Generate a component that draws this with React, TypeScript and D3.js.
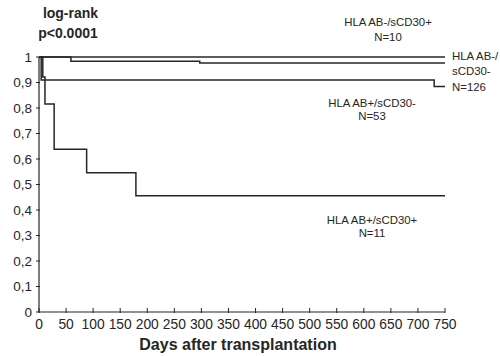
import React from "react";
import * as d3 from "d3";

const xTicks = [0, 50, 100, 150, 200, 250, 300, 350, 400, 450, 500, 550, 600, 650, 700, 750];
const yTicks = [0, 0.1, 0.2, 0.3, 0.4, 0.5, 0.6, 0.7, 0.8, 0.9, 1];

const abNegCd30PosDays = [0, 750];
const abNegCd30PosSurv = [1, 1];
const abNegCd30NegDays = [0, 59, 297, 750];
const abNegCd30NegSurv = [1, 0.983, 0.976, 0.976];
const abPosCd30NegDays = [0, 4, 730, 750];
const abPosCd30NegSurv = [1, 0.91, 0.884, 0.884];
const abPosCd30PosDays = [0, 7, 11, 28, 88, 179, 750];
const abPosCd30PosSurv = [1, 0.922, 0.816, 0.638, 0.546, 0.456, 0.456];

const series = [
  { days: abNegCd30PosDays, surv: abNegCd30PosSurv },
  { days: abNegCd30NegDays, surv: abNegCd30NegSurv },
  { days: abPosCd30NegDays, surv: abPosCd30NegSurv },
  { days: abPosCd30PosDays, surv: abPosCd30PosSurv },
];

const FONT = "'Liberation Sans', Arial, Helvetica, sans-serif";
const INK = "#262626";

export default function App() {
  const x = d3.scaleLinear().domain([0, 750]).range([39, 445]);
  const y = d3.scaleLinear().domain([0, 1]).range([312, 57]);
  const line = d3
    .line<[number, number]>()
    .x((d) => x(d[0]))
    .y((d) => y(d[1]))
    .curve(d3.curveStepAfter);

  const fmtY = (v: number) => (v === 0 || v === 1 ? String(v) : v.toFixed(1).replace(".", ","));

  return (
    <svg width={500} height={356} style={{ position: "absolute", left: 0, top: 0, background: "#fff" }}>
      <rect width={500} height={356} fill="#fff" />
      {/* axes */}
      <line x1={x(0)} x2={x(0)} y1={y(0)} y2={y(1)} stroke={INK} strokeWidth={1.2} />
      <line x1={x(0)} x2={x(750)} y1={y(0)} y2={y(0)} stroke={INK} strokeWidth={1.2} />
      {yTicks.map((t) => (
        <g key={"y" + t}>
          <line x1={x(0) - 3} x2={x(0) + 1} y1={y(t)} y2={y(t)} stroke={INK} strokeWidth={1} />
          <text x={x(0) - 7} y={y(t)} dy="0.36em" textAnchor="end" fontFamily={FONT} fontSize={13.5} fill={INK}>
            {fmtY(t)}
          </text>
        </g>
      ))}
      {xTicks.map((t) => (
        <g key={"x" + t}>
          <line x1={x(t)} x2={x(t)} y1={y(0) - 4} y2={y(0) + 1} stroke={INK} strokeWidth={1} />
          <text x={x(t)} y={y(0) + 17} textAnchor="middle" fontFamily={FONT} fontSize={13.8} fill={INK}>
            {t}
          </text>
        </g>
      ))}
      {/* curves */}
      {series.map((s, i) => (
        <path
          key={i}
          d={line(s.days.map((d, j) => [d, s.surv[j]] as [number, number])) || ""}
          fill="none"
          stroke={INK}
          strokeWidth={1.5}
        />
      ))}
      {/* titles */}
      <text x={70.5} y={18} textAnchor="middle" fontFamily={FONT} fontWeight="bold" fontSize={14} fill={INK}>
        log-rank
      </text>
      <text x={68} y={38} textAnchor="middle" fontFamily={FONT} fontWeight="bold" fontSize={14} fill={INK}>
        p&lt;0.0001
      </text>
      <text x={238} y={350} textAnchor="middle" fontFamily={FONT} fontWeight="bold" fontSize={16} fill={INK}>
        Days after transplantation
      </text>
      {/* labels */}
      <g fontFamily={FONT} fontSize={11.4} fill={INK}>
        <text x={388} y={26} textAnchor="middle">HLA AB-/sCD30+</text>
        <text x={388} y={41} textAnchor="middle">N=10</text>
        <text x={452} y={60}>HLA AB-/</text>
        <text x={452} y={75}>sCD30-</text>
        <text x={452} y={91}>N=126</text>
        <text x={372} y={107} textAnchor="middle">HLA AB+/sCD30-</text>
        <text x={372} y={120} textAnchor="middle">N=53</text>
        <text x={372} y={224} textAnchor="middle">HLA AB+/sCD30+</text>
        <text x={372} y={237} textAnchor="middle">N=11</text>
      </g>
    </svg>
  );
}
